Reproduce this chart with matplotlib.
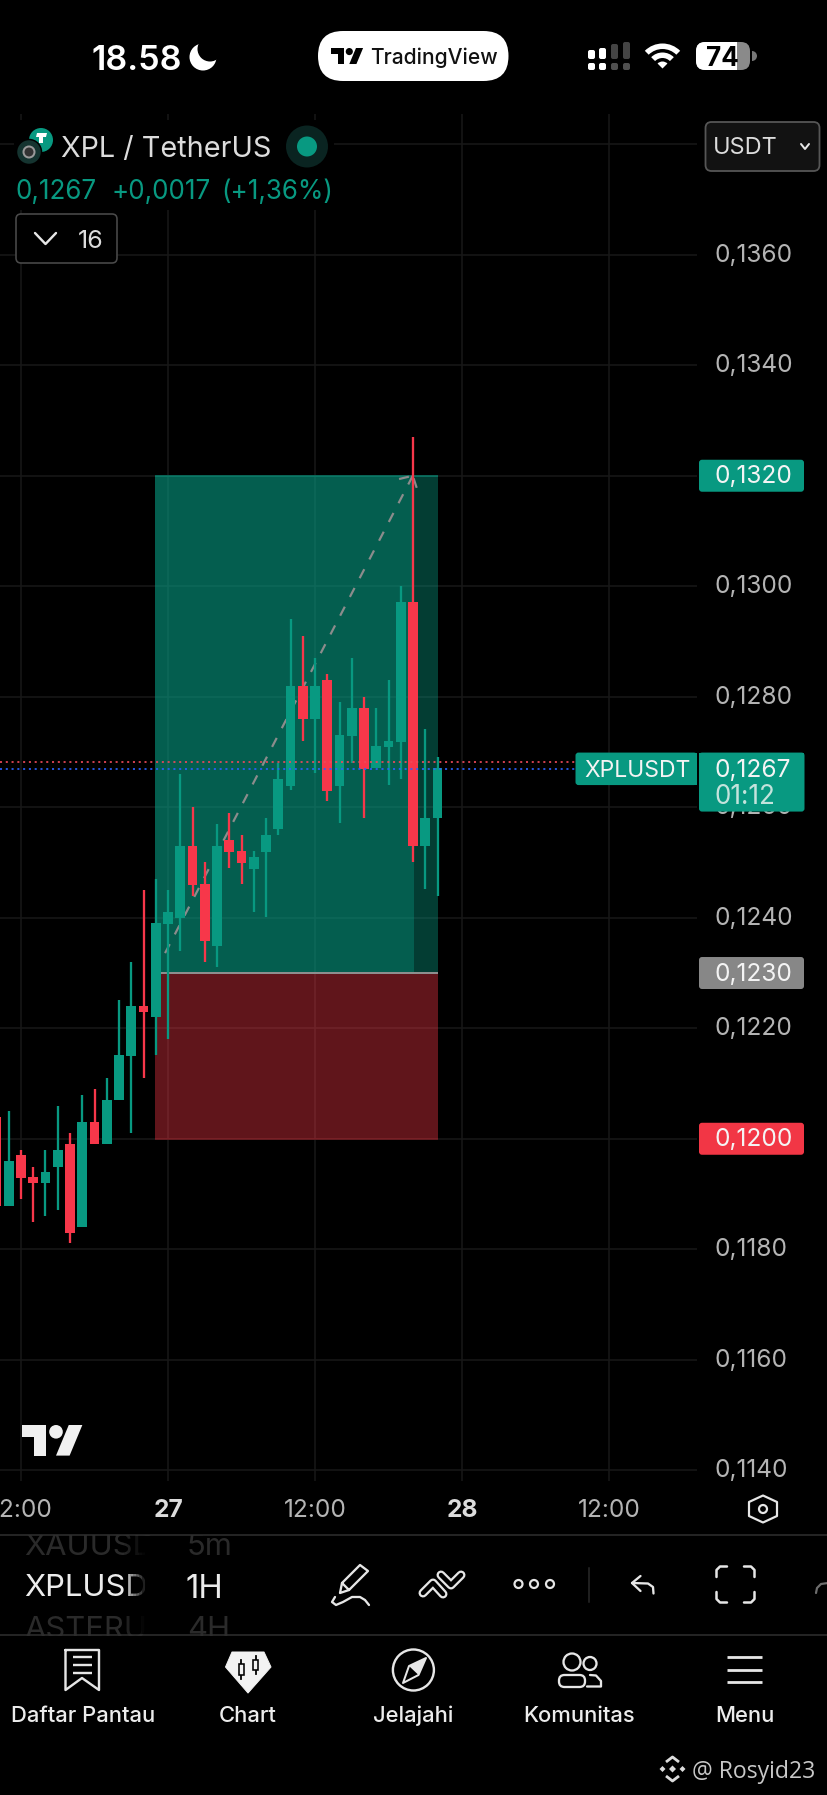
import matplotlib
matplotlib.use("Agg")
import matplotlib.pyplot as plt
from matplotlib.patches import Rectangle, FancyBboxPatch, Circle, Polygon, Wedge
from matplotlib.transforms import ScaledTranslation

plt.rcParams["font.family"] = ["Inter", "DejaVu Sans"]

# 1H candles, hours relative to 27th 00:00
HOURS = list(range(-14, 23))
OPEN = [0.120398, 0.118787, 0.119705, 0.119301, 0.119204, 0.119493, 0.119904, 0.118396, 0.120297, 0.119899,
        0.120700, 0.121497, 0.122402, 0.122197, 0.123892, 0.124000, 0.125303, 0.124610, 0.123493, 0.125406,
        0.125202, 0.124887, 0.125195, 0.125600, 0.126389, 0.128194, 0.127597, 0.128302, 0.126389, 0.127294,
        0.127801, 0.126704, 0.127095, 0.127186, 0.129709, 0.125303, 0.125799]
HIGH = [0.120398, 0.120507, 0.119795, 0.119493, 0.119795, 0.120597, 0.120098, 0.120796, 0.120900, 0.121099,
        0.122510, 0.123204, 0.124501, 0.124700, 0.124501, 0.126601, 0.125998, 0.125003, 0.125696, 0.125900,
        0.125502, 0.125202, 0.125805, 0.126806, 0.129407, 0.129104, 0.128695, 0.128406, 0.127910, 0.128695,
        0.128000, 0.127801, 0.128302, 0.130004, 0.132706, 0.127410, 0.126903]
LOW = [0.118787, 0.118787, 0.118909, 0.118498, 0.118606, 0.118709, 0.118107, 0.118396, 0.119899, 0.119899,
       0.120700, 0.120109, 0.121104, 0.121510, 0.121805, 0.123403, 0.124398, 0.123204, 0.123102, 0.124900,
       0.124610, 0.124098, 0.124007, 0.125502, 0.126311, 0.127204, 0.126614, 0.126107, 0.125714, 0.126806,
       0.125810, 0.126704, 0.126402, 0.126505, 0.125014, 0.124514, 0.124398]
CLOSE = [0.118787, 0.119596, 0.119289, 0.119204, 0.119403, 0.119795, 0.118293, 0.120297, 0.119899, 0.120700,
         0.121510, 0.122402, 0.122288, 0.123904, 0.124098, 0.125303, 0.124597, 0.123584, 0.125303, 0.125195,
         0.124996, 0.125104, 0.125502, 0.126505, 0.128194, 0.127597, 0.128194, 0.126299, 0.127307, 0.127801,
         0.126692, 0.127108, 0.127198, 0.129709, 0.125303, 0.125799, 0.126704]

PRICE_TICKS = [0.1360, 0.1340, 0.1320, 0.1300, 0.1280, 0.1260, 0.1240, 0.1220, 0.1200, 0.1180, 0.1160, 0.1140]
PRICE_LABELS = ["0,1360", "0,1340", "0,1320", "0,1300", "0,1280", "0,1260", "0,1240", "0,1220", "0,1200",
                "0,1180", "0,1160", "0,1140"]
TIME_TICKS = [-12, 0, 12, 24, 36]
TIME_LABELS = ["12:00", "27", "12:00", "28", "12:00"]

TARGET, ENTRY, STOP = 0.1320, 0.1230, 0.1200
LAST_PRICE, PREV_LINE = 0.1267, 0.12681
BOX_LEFT, BOX_HIT, BOX_RIGHT = -1.09, 20.08, 22.07
ARROW_X = [-0.24, 19.98]
ARROW_Y = [0.12336, 0.13200]
HEAD_X = [18.86, 19.98, 20.3]
HEAD_Y = [0.13194, 0.13200, 0.13178]

W, H = 828, 1795
GREEN = "#089981"
RED = "#f7374a"
TXT = "#e6e6e6"


def px(v):
    return v * 0.72  # pixels to points at dpi 100


fig = plt.figure(figsize=(W / 100, H / 100), dpi=100, facecolor="black")

# chart pane, 0..697 x 114..1481 in screen pixels
ax = fig.add_axes([0, 1 - 1481 / H, 697 / W, (1481 - 114) / H], facecolor="black")
ax.set_xlim(-13.714, 43.18)
ax.set_ylim(0.113806, 0.138547)
for s in ax.spines.values():
    s.set_visible(False)
ax.set_axisbelow(True)
ax.set_yticks(PRICE_TICKS + [0.1380], PRICE_LABELS + [""])
ax.set_xticks(TIME_TICKS, TIME_LABELS)
ax.yaxis.tick_right()
ax.grid(color="#171717", lw=px(1.6))
ax.tick_params(axis="y", length=0, pad=px(18), labelsize=px(24.5), labelcolor="#b4b4b4")
ax.tick_params(axis="x", length=0, pad=px(18), labelsize=px(24.5), labelcolor="#b4b4b4")
lift = ScaledTranslation(0, 2.2 / 100, fig.dpi_scale_trans)
for lab in ax.get_yticklabels():
    lab.set_va("center_baseline")
    lab.set_transform(lab.get_transform() + lift)
for lab, txt in zip(ax.get_xticklabels(), TIME_LABELS):
    if len(txt) == 2:
        lab.set_fontweight("bold")
        lab.set_color("#dcdcdc")

# long position tool
ax.add_patch(Rectangle((BOX_LEFT, ENTRY), BOX_HIT - BOX_LEFT, TARGET - ENTRY, fc=GREEN, alpha=0.62, lw=0, zorder=1.5))
ax.add_patch(Rectangle((BOX_HIT, ENTRY), BOX_RIGHT - BOX_HIT, TARGET - ENTRY, fc=GREEN, alpha=0.4, lw=0, zorder=1.5))
ax.add_patch(Rectangle((BOX_LEFT, STOP), BOX_RIGHT - BOX_LEFT, ENTRY - STOP, fc="#f23645", alpha=0.4, lw=0, zorder=1.5))
ax.hlines(TARGET, BOX_LEFT, BOX_RIGHT, color="#0a7d6a", lw=px(1.5), zorder=1.6)
ax.hlines(STOP, BOX_LEFT, BOX_RIGHT, color="#7c2027", lw=px(1.5), zorder=1.6)
ax.hlines(ENTRY, BOX_LEFT, BOX_RIGHT, color="#8e8e8e", lw=px(2), zorder=1.6)
ax.plot(ARROW_X, ARROW_Y, color="#8c8c8c", lw=px(2.2), ls=(0, (4.6, 5)), zorder=1.8, dash_capstyle="butt")
ax.plot(HEAD_X, HEAD_Y, color="#8c8c8c", lw=px(2.2), ls=(0, (4.6, 3)), zorder=1.8, dash_capstyle="butt")

# candles
colors = [GREEN if c >= o else RED for o, c in zip(OPEN, CLOSE)]
ax.vlines(HOURS, LOW, HIGH, colors=colors, lw=px(2.3), zorder=3)
ax.bar(HOURS, [abs(c - o) for o, c in zip(OPEN, CLOSE)], bottom=[min(o, c) for o, c in zip(OPEN, CLOSE)],
       width=0.79, color=colors, lw=0, zorder=3)

ax.hlines(PREV_LINE, ax.get_xlim()[0], 33.2, color="#ee4a5a", lw=px(1.7), ls=(0, (1.2, 2.2)), zorder=4)
ax.hlines(LAST_PRICE, ax.get_xlim()[0], 33.2, color="#2962ff", lw=px(1.7), ls=(0, (1.2, 2.2)), zorder=4)

# everything else is screen furniture, drawn in pixel coordinates
ui = fig.add_axes([0, 0, 1, 1], facecolor="none")
ui.set_xlim(0, W)
ui.set_ylim(H, 0)
ui.axis("off")


def price_y(p):
    return H - ax.transData.transform((0, p))[1]


def rbox(x0, y0, x1, y1, r=3, fc="white", ec="none", lw=0, z=5):
    p = FancyBboxPatch((x0 + r, y0 + r), x1 - x0 - 2 * r, y1 - y0 - 2 * r, boxstyle=f"round,pad={r},rounding_size={r}",
                       fc=fc, ec=ec, lw=lw, zorder=z)
    ui.add_patch(p)
    return p


def line(pts, color=TXT, lw=2.4, z=6, cap="round"):
    xs, ys = zip(*pts)
    ui.plot(xs, ys, color=color, lw=px(lw), zorder=z, solid_capstyle=cap, solid_joinstyle="round")


def text(x, y, s, size, color=TXT, ha="left", weight="normal", z=7, **kw):
    return ui.text(x, y, s, fontsize=px(size), color=color, ha=ha, va="center_baseline", fontweight=weight, zorder=z, **kw)


def tv_logo(x, y, k, color, z=6):
    ui.add_patch(Polygon([(x, y), (x + 14 * k, y), (x + 14 * k, y + 18 * k), (x + 7 * k, y + 18 * k), (x + 7 * k, y + 7 * k), (x, y + 7 * k)],
                         fc=color, lw=0, zorder=z))
    ui.add_patch(Polygon([(x + 20 * k, y + 18 * k), (x + 27.5 * k, y), (x + 35.5 * k, y), (x + 28 * k, y + 18 * k)], fc=color, lw=0, zorder=z))
    ui.add_patch(Circle((x + 20 * k, y + 4 * k), 4 * k, fc=color, lw=0, zorder=z))


def price_tag(p, label, color):
    y = price_y(p)
    rbox(699, y - 16, 804, y + 16, fc=color)
    text(715, y - 1.5, label, 24.5, color="#f4f4f4")


# legend backgrounds hide the grid
ui.add_patch(Rectangle((14, 120), 320, 56, fc="black", lw=0, zorder=2))
ui.add_patch(Rectangle((14, 176), 322, 34, fc="black", lw=0, zorder=2))

# status bar
text(92, 57, "18.58", 34, color="white", weight="semibold")
ui.add_patch(Circle((203, 57), 13.5, fc="white", lw=0, zorder=5))
ui.add_patch(Circle((210, 49), 12.5, fc="black", lw=0, zorder=6))
rbox(318, 31, 508.5, 81, r=25, fc="white")
tv_logo(331.5, 48, 0.89, "black")
text(370, 56, "TradingView", 21, color="#111111", weight="medium")

sig_x = [588, 599, 611, 623]
sig_top = [50, 48, 44, 42]
for i, (sx, st) in enumerate(zip(sig_x, sig_top)):
    c = "white" if i < 2 else "#444444"
    rbox(sx, st, sx + 7, 59, r=2, fc=c)
    rbox(sx, 63, sx + 7, 70, r=2, fc="white" if i < 2 else "#4f4f4f")
for rad, wid in [(25, 5.5), (16, 5.5), (7, 7)]:
    ui.add_patch(Wedge((662.5, 68.5), rad, 225, 315, width=wid, fc="white", lw=0, zorder=6))
bat = rbox(696, 42, 750, 70, r=9, fc="#8a8a8a")
white_part = Rectangle((696, 42), 41, 28, fc="white", lw=0, zorder=6)
ui.add_patch(white_part)
white_part.set_clip_path(bat)
ui.add_patch(Wedge((752, 56), 5, -90, 90, fc="#777777", lw=0, zorder=6))
text(722.5, 56, "74", 26, color="black", ha="center", weight="bold")

# symbol legend
ui.add_patch(Circle((41, 140), 12, fc=GREEN, lw=0, zorder=5))
ui.add_patch(Polygon([(37, 133), (47, 133), (46, 137), (43, 137), (43, 143), (39, 143), (39, 137), (36, 137)], fc="white", lw=0, zorder=5.5))
ui.add_patch(Circle((29, 152), 12.5, fc="#153430", ec="black", lw=px(1.5), zorder=6))
ui.add_patch(Circle((29, 152), 5.5, fc="#333333", ec="#9a9a9a", lw=px(2), zorder=6.5))
text(61, 146.5, "XPL / TetherUS", 28.8, color="#dcdcdc")
ui.add_patch(Circle((307, 146.5), 21, fc="#0a2421", lw=0, zorder=5))
ui.add_patch(Circle((307, 146.5), 10, fc=GREEN, lw=0, zorder=6))
text(16, 189.5, "0,1267", 26, color=GREEN)
text(112, 189.5, "+0,0017", 26, color=GREEN)
text(221, 189.5, "(+1,36%)", 26, color=GREEN)
rbox(16, 214, 117, 263, r=5, fc="black", ec="#4a4a4a", lw=px(1.6), z=3)
line([(35, 233), (45.5, 244), (56, 233)], lw=2.4)
text(78, 238.5, "16", 25, color="#dcdcdc")

rbox(705.5, 122, 819.5, 171, r=6, fc="#121212", ec="#565656", lw=px(1.8))
text(713, 146, "USDT", 23.5, color="#dcdcdc")
line([(801, 144), (805, 149), (809, 144)], lw=2)

# price scale tags
price_tag(TARGET, "0,1320", GREEN)
price_tag(ENTRY, "0,1230", "#878787")
price_tag(STOP, "0,1200", "#f23645")
ly = price_y(LAST_PRICE)
rbox(575.5, ly - 16, 697, ly + 16.5, r=3, fc=GREEN)
ui.add_patch(Rectangle((590, ly - 16), 107, 32.5, fc=GREEN, lw=0, zorder=5))
text(584, ly, "XPLUSDT", 23, color="#f4f4f4")
rbox(699, ly - 16, 804.5, ly + 43, r=3, fc=GREEN)
ui.add_patch(Rectangle((699, ly - 16), 105.5, 20, fc=GREEN, lw=0, zorder=5))
text(715, ly - 1, "0,1267", 24.5, color="#f4f4f4")
text(715, ly + 25.5, "01:12", 26, color="#c3e3dc")

tv_logo(22, 1425, 1.7, "#f0f0f0", z=6)

# hexagon settings icon
ui.add_patch(Polygon([(763, 1495.5), (777, 1502), (777, 1516), (763, 1522.5), (749, 1516), (749, 1502)], fc="none", ec=TXT, lw=px(2.2), zorder=6, closed=True, joinstyle="round"))
ui.add_patch(Circle((763, 1509), 4, fc="none", ec=TXT, lw=px(2.2), zorder=6))

# toolbar
ui.plot([0, W], [1535, 1535], color="#2e2e2e", lw=px(1.6), zorder=8)
ui.plot([0, W], [1635.3, 1635.3], color="#2e2e2e", lw=px(1.6), zorder=8)
text(24, 1544, "XAUUSD", 31, color="#2a2a2a")
text(187, 1544, "5m", 31, color="#2a2a2a")
text(24, 1626.5, "ASTERU", 31, color="#2a2a2a")
text(187, 1626.5, "4H", 31, color="#2a2a2a")
text(24, 1585.5, "XPLUSDT", 31, color="#ececec")
text(186, 1585.5, "1H", 33, color="#ececec")
ui.add_patch(Rectangle((0, 1524), 240, 11, fc="black", lw=0, zorder=7.5))
ui.add_patch(Rectangle((0, 1635.5), 240, 10, fc="black", lw=0, zorder=7.5))
for i in range(8):
    ui.add_patch(Rectangle((124 + i * 3, 1536), 3, 98, fc="black", alpha=0.12 + i * 0.125, lw=0, zorder=7.5))
ui.add_patch(Rectangle((148, 1536), 34, 98, fc="black", lw=0, zorder=7.5))

# pen
line([(342, 1583), (360, 1565), (368, 1571), (349, 1590), (340, 1593), (342, 1583), (349, 1590)], color=TXT, lw=2.3)
line([(335, 1597), (332, 1602), (336, 1605), (343, 1602), (352, 1597), (360, 1597), (365, 1600), (369, 1605)], color=TXT, lw=2.3)
# trend icon, outlined strokes
for pts in ([(423, 1593), (433, 1583), (443, 1594)], [(441, 1575), (451, 1585), (461, 1575)]):
    line(pts, lw=9)
    line(pts, color="black", lw=4.5, z=6.5)
# dots
for cx in (518.5, 534, 550):
    ui.add_patch(Circle((cx, 1584), 4, fc="none", ec=TXT, lw=px(2.2), zorder=6))
ui.plot([589, 589], [1568, 1602], color="#2a2a2a", lw=px(1.5), zorder=6)
# undo
line([(653.5, 1593.5), (653, 1587), (648, 1583.5), (632, 1583)], lw=2.3)
line([(640.5, 1576), (632, 1583), (640.5, 1591)], lw=2.3)
# fullscreen
for c in ([(716.5, 1577), (716.5, 1570), (720, 1566.5), (727, 1566.5)], [(744, 1566.5), (751, 1566.5), (754.5, 1570), (754.5, 1577)],
          [(716.5, 1592), (716.5, 1599), (720, 1602.5), (727, 1602.5)], [(744, 1602.5), (751, 1602.5), (754.5, 1599), (754.5, 1592)]):
    line(c, lw=2.5)
line([(816, 1593), (817, 1588), (821, 1584), (828, 1583)], color="#6e6e6e", lw=2.2)

# bottom navigation
line([(65.5, 1650), (99, 1650), (99, 1690), (82, 1678), (65.5, 1690), (65.5, 1650)], lw=2.4)
for ly2 in (1657, 1665, 1673):
    line([(73, ly2), (92, ly2)], lw=2.4, cap="butt")

ui.add_patch(Polygon([(232, 1652), (264, 1652), (271, 1667), (248, 1693), (225.5, 1667)], fc="#f2f2f2", ec="#f2f2f2", lw=px(1), joinstyle="round", zorder=6))
for cx, y0, y1, b0, b1 in [(241.5, 1660, 1679, 1664, 1675), (256, 1656, 1674, 1660, 1670)]:
    ui.plot([cx, cx], [y0, y1], color="black", lw=px(1.8), zorder=6.5)
    ui.add_patch(Rectangle((cx - 2.5, b0), 5, b1 - b0, fc="#f2f2f2", ec="black", lw=px(1.6), zorder=6.6))

ui.add_patch(Circle((413.4, 1670), 20.5, fc="none", ec=TXT, lw=px(2.4), zorder=6))
ui.add_patch(Polygon([(426, 1658), (418.5, 1675), (403, 1683), (409, 1666)], fc="none", ec=TXT, lw=px(2), zorder=6, joinstyle="round"))
ui.add_patch(Polygon([(426, 1658), (418.5, 1675), (409, 1666)], fc=TXT, lw=0, zorder=6))

ui.add_patch(Circle((572, 1662), 8.5, fc="none", ec=TXT, lw=px(2.3), zorder=6))
ui.add_patch(Circle((590, 1663.5), 6.5, fc="none", ec=TXT, lw=px(2.3), zorder=6))
rbox(559, 1675, 585, 1687, r=5.5, fc="black", ec=TXT, lw=px(2.3), z=6.2)
line([(590, 1675), (596, 1675.5), (601, 1681), (601, 1686.5), (587, 1686.5)], lw=2.3, z=6)

for ly2 in (1657, 1669.5, 1682):
    line([(727.5, ly2), (762, ly2)], lw=2.8, cap="butt")

NAV_X = [83, 248, 413.5, 579, 744.5]
NAV_LABELS = ["Daftar Pantau", "Chart", "Jelajahi", "Komunitas", "Menu"]
for nx, nl in zip(NAV_X, NAV_LABELS):
    text(nx, 1714, nl, 22, color="#ececec", ha="center", weight="medium")

# watermark
for cx, cy, r in [(672.5, 1769, 3.5), (662.5, 1769, 3), (682.5, 1769, 3)]:
    ui.add_patch(Polygon([(cx, cy - r), (cx + r, cy), (cx, cy + r), (cx - r, cy)], fc="#dcdcdc", lw=0, zorder=6))
line([(666, 1762), (672.5, 1757), (679, 1762)], color="#dcdcdc", lw=2.8, cap="butt")
line([(666, 1776), (672.5, 1781), (679, 1776)], color="#dcdcdc", lw=2.8, cap="butt")
text(692, 1769, "@ Rosyid23", 23, color="#c8c8c8", family=["Open Sans", "DejaVu Sans"])

fig.savefig("out.png", dpi=100, facecolor="black")
